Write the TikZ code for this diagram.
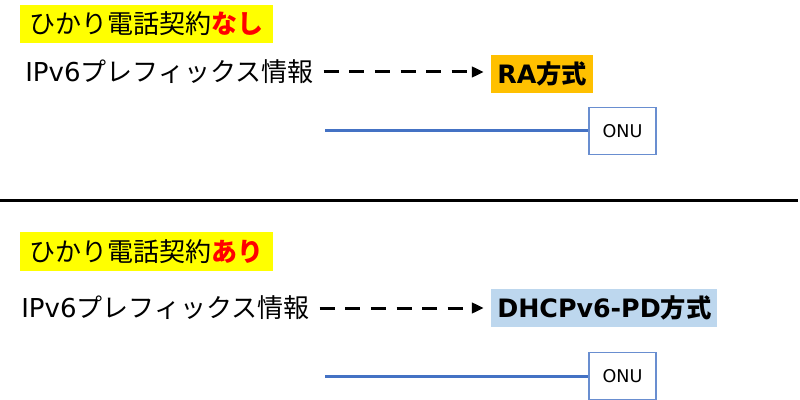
\documentclass[tikz,border=0pt]{standalone}
\usepackage{fontspec}
\setmainfont{DejaVu Sans}
\newfontfamily\jp{Noto Sans CJK JP}
\usetikzlibrary{arrows.meta}
\definecolor{markyellow}{HTML}{FFFF00}
\definecolor{raorange}{HTML}{FFC000}
\definecolor{pdblue}{HTML}{BDD7EE}
\definecolor{linkblue}{HTML}{4472C4}

\begin{document}
\begin{tikzpicture}[x=0.025cm,y=-0.025cm,
        title/.style={fill=markyellow,minimum width=6.325cm,minimum height=0.95cm,
            inner xsep=0.2cm,font=\fontsize{18.5}{22}\selectfont\jp},
        info/.style={anchor=west,inner sep=0pt,font=\fontsize{18.5}{22}\selectfont},
        method/.style={anchor=west,minimum height=0.95cm,inner xsep=0.15cm,
            font=\fontsize{18}{22}\selectfont\bfseries},
        onubox/.style={draw=linkblue!80,line width=0.8pt,fill=white,minimum width=1.675cm,
            minimum height=1.175cm,font=\fontsize{12.5}{14}\selectfont},
        dasharrow/.style={-{Triangle[length=0.3cm,width=0.26cm]},line width=0.075cm,
            dash pattern=on 0.375cm off 0.265cm,shorten <=0.25cm,shorten >=0.18cm},
        fiber/.style={draw=linkblue,line width=0.075cm}]
        \useasboundingbox (0,0) rectangle (800,400);

        \node[title] at (146.5,24) (A) {ひかり電話契約{\bfseries\color{red}なし}};
        \node[info] at (25,72) (B) {IPv6{\jp プレフィックス情報}};
        \node[method,fill=raorange] at (491,74) (C) {RA{\jp 方式}};
        \node[onubox] at (622.5,131) (D) {ONU};
        \coordinate (E) at (325,131);

        \draw [dasharrow] (B.east) -- (B.east -| C.west);
        \draw [fiber] (E) -- (D);

        \draw [line width=0.075cm] (0,200) -- (798,200);

        \node[title] at (146.5,251.5) (F) {ひかり電話契約{\bfseries\color{red}あり}};
        \node[info] at (21,308) (G) {IPv6{\jp プレフィックス情報}};
        \node[method,fill=pdblue] at (491,308) (H) {DHCPv6-PD{\jp 方式}};
        \node[onubox] at (622.5,376) (I) {ONU};
        \coordinate (J) at (325,376);

        \draw [dasharrow] (G.east) -- (G.east -| H.west);
        \draw [fiber] (J) -- (I);
    \end{tikzpicture}
\end{document}
